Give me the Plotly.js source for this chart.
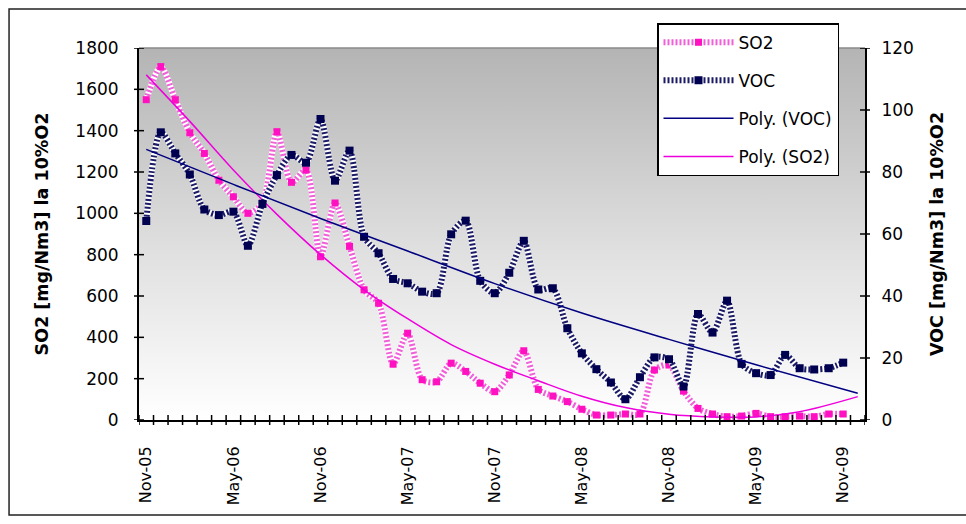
<!DOCTYPE html>
<html>
<head>
<meta charset="utf-8">
<script src="https://cdn.plot.ly/plotly-3.0.1.min.js"></script>
<style>html,body{margin:0;padding:0;background:#fff}#chart{width:966px;height:524px}</style>
</head>
<body>
<div id="chart"></div>
<script>
const months = ['Nov-05','Dec-05','Jan-06','Feb-06','Mar-06','Apr-06','May-06','Jun-06','Jul-06','Aug-06','Sep-06','Oct-06',
  'Nov-06','Dec-06','Jan-07','Feb-07','Mar-07','Apr-07','May-07','Jun-07','Jul-07','Aug-07','Sep-07','Oct-07',
  'Nov-07','Dec-07','Jan-08','Feb-08','Mar-08','Apr-08','May-08','Jun-08','Jul-08','Aug-08','Sep-08','Oct-08',
  'Nov-08','Dec-08','Jan-09','Feb-09','Mar-09','Apr-09','May-09','Jun-09','Jul-09','Aug-09','Sep-09','Oct-09',
  'Nov-09','Dec-09'];
const so2 = [1550,1710,1550,1390,1290,1160,1080,1000,1050,1395,1150,1210,
  790,1050,840,630,565,270,420,195,185,275,235,178,
  137,218,335,148,116,89,52,24,24,29,29,242,
  266,140,56,29,16,19,32,16,16,19,16,29,29];
const voc = [64.2,92.8,86,79.2,67.9,66.1,67.2,56.2,69.7,79,85.5,83,
  97.1,77.2,86.9,59.1,53.8,45.5,44.1,41.4,40.9,59.9,64.3,44.9,
  40.9,47.5,57.8,42.1,42.5,29.6,21.5,16.4,12.1,6.7,13.8,20.2,
  19.6,10.8,34.2,28.2,38.5,18.1,15.1,14.5,21,16.7,16.3,16.7,18.5];
const trendSo2Months = ['Nov-05','Feb-06','May-06','Aug-06','Nov-06','Feb-07','May-07','Aug-07','Nov-07','Feb-08','May-08','Aug-08','Nov-08','Feb-09','May-09','Aug-09','Dec-09'];
const trendSo2 = [1670,1445,1210,995,800,630,490,365,270,190,115,60,28,15,15,40,113];
const trendVocMonths = ['Nov-05','May-06','Nov-06','May-07','Nov-07','May-08','Nov-08','May-09','Dec-09'];
const trendVoc = [87.3,76,65,54.5,44,34.5,26,17.8,8.6];
const tickLabels = ['Nov-05','May-06','Nov-06','May-07','Nov-07','May-08','Nov-08','May-09','Nov-09'];
const so2Ticks = [0,200,400,600,800,1000,1200,1400,1600,1800];
const vocTicks = [0,20,40,60,80,100,120];
const seriesNames = ['SO2','VOC','Poly. (VOC)','Poly. (SO2)'];
const leftTitle = 'SO2 [mg/Nm3] la 10%O2';
const rightTitle = 'VOC [mg/Nm3] la 10%O2';

const idx = m => months.indexOf(m);
const xs = so2.map((v,i)=>i);
const xv = voc.map((v,i)=>i);
const font = 'DejaVu Sans, Arial, sans-serif';

const plotW = 966 - 139 - 101, plotH = 524 - 48 - 104;
const tx = 5 / plotW, ty = 5 / plotH;   // half length of the crossing tick marks, in paper units
const boundaries = months.map((m,i)=>i-0.5).concat([months.length-0.5]);

const gradSvg = '<svg xmlns="http://www.w3.org/2000/svg" width="100" height="100" viewBox="0 0 100 100" preserveAspectRatio="none">' +
  '<defs><linearGradient id="g" x1="0" y1="0" x2="0" y2="1">' +
  '<stop offset="0" stop-color="#b4b4b4"/><stop offset="0.55" stop-color="#e0e0e0"/><stop offset="1" stop-color="#ffffff"/>' +
  '</linearGradient></defs><rect width="100" height="100" fill="url(#g)"/></svg>';

const traces = [
  {x: xs, y: so2, type:'scatter', mode:'lines', line:{color:'#ffffff', width:6, shape:'spline', smoothing:0.8},
   showlegend:false, hoverinfo:'skip'},
  {x: xs, y: so2, type:'scatter', mode:'lines+markers', name: seriesNames[0], legendgroup:'a',
   line:{color:'#f060d8', width:6, shape:'spline', smoothing:0.8, dash:'2px,2px'},
   marker:{symbol:'square', size:7, color:'#ff10c0'}},
  {x: xv, y: voc, type:'scatter', mode:'lines', yaxis:'y2', line:{color:'#ffffff', width:6, shape:'spline', smoothing:0.8},
   showlegend:false, hoverinfo:'skip'},
  {x: xv, y: voc, type:'scatter', mode:'lines+markers', name: seriesNames[1], yaxis:'y2', legendgroup:'b',
   line:{color:'#1c1c66', width:6, shape:'spline', smoothing:0.8, dash:'2px,2px'},
   marker:{symbol:'square', size:8, color:'#000050'}},
  {x: trendVocMonths.map(idx), y: trendVoc, type:'scatter', mode:'lines', name: seriesNames[2], yaxis:'y2', legendgroup:'c',
   line:{color:'#000080', width:1.5, shape:'spline'}},
  {x: trendSo2Months.map(idx), y: trendSo2, type:'scatter', mode:'lines', name: seriesNames[3], legendgroup:'d',
   line:{color:'#ee00dd', width:1.5, shape:'spline'}}
];

const tickFont = {family: font, size: 17, color:'#000'};
const titleFont = {family: font, size: 17.5, color:'#000', weight: 'bold'};
const tickLine = {color:'#000', width:1.5};

const shapes = [
  {type:'line', xref:'paper', yref:'paper', x0:0, x1:1, y0:1, y1:1, line:{color:'#8a8a8a', width:1.5}},
  {type:'rect', xref:'paper', yref:'paper', x0:-0.179, x1:1.3, y0:-0.2554, y1:1.1048, line:{color:'#222', width:1.5}}
]
  .concat(boundaries.map(b => ({type:'line', xref:'x', yref:'paper', x0:b, x1:b, y0:-ty, y1:ty, line:tickLine})))
  .concat(so2Ticks.map(v => ({type:'line', xref:'paper', yref:'y', x0:-tx, x1:tx, y0:v, y1:v, line:tickLine})))
  .concat(vocTicks.map(v => ({type:'line', xref:'paper', yref:'y2', x0:1-tx, x1:1+tx, y0:v, y1:v, line:tickLine})));

const layout = {
  width: 966, height: 524,
  margin: {l:139, r:101, t:48, b:104, pad:0},
  paper_bgcolor:'#ffffff', plot_bgcolor:'rgba(0,0,0,0)',
  showlegend: true,
  legend: {x:0.7135, y:1.067, xanchor:'left', yanchor:'top', bgcolor:'#ffffff', bordercolor:'#000', borderwidth:1.5,
    font:{family: font, size:17, color:'#000'}, traceorder:'grouped', tracegroupgap:13, itemwidth:70},
  xaxis: {range: [-0.5, months.length - 0.5], tickmode:'array', tickvals: tickLabels.map(idx), ticktext: tickLabels, tickangle:-90,
    ticks:'', showline:true, linecolor:'#000', linewidth:2, showgrid:false, zeroline:false,
    tickfont:{family: font, size:16, color:'#000'}, ticklabelstandoff:18},
  yaxis: {range:[0,1800], tickmode:'array', tickvals: so2Ticks, ticks:'', showline:true, linecolor:'#000', linewidth:2,
    showgrid:false, zeroline:false, tickfont: tickFont, ticklabelstandoff:15,
    title:{text: leftTitle, font: titleFont, standoff: 22}},
  yaxis2: {overlaying:'y', side:'right', anchor:'x', range:[0,120], tickmode:'array', tickvals: vocTicks, ticks:'',
    showline:true, linecolor:'#000', linewidth:2, showgrid:false, zeroline:false,
    tickfont: tickFont, ticklabelstandoff:11, title:{text: rightTitle, font: titleFont, standoff: 18}},
  images: [{source: 'data:image/svg+xml;charset=utf-8,' + encodeURIComponent(gradSvg), xref:'paper', yref:'paper',
    x:0, y:1, sizex:1, sizey:1, xanchor:'left', yanchor:'top', sizing:'stretch', layer:'below'}],
  shapes: shapes
};

Plotly.newPlot('chart', traces, layout, {staticPlot:true, displayModeBar:false});
</script>
</body>
</html>
